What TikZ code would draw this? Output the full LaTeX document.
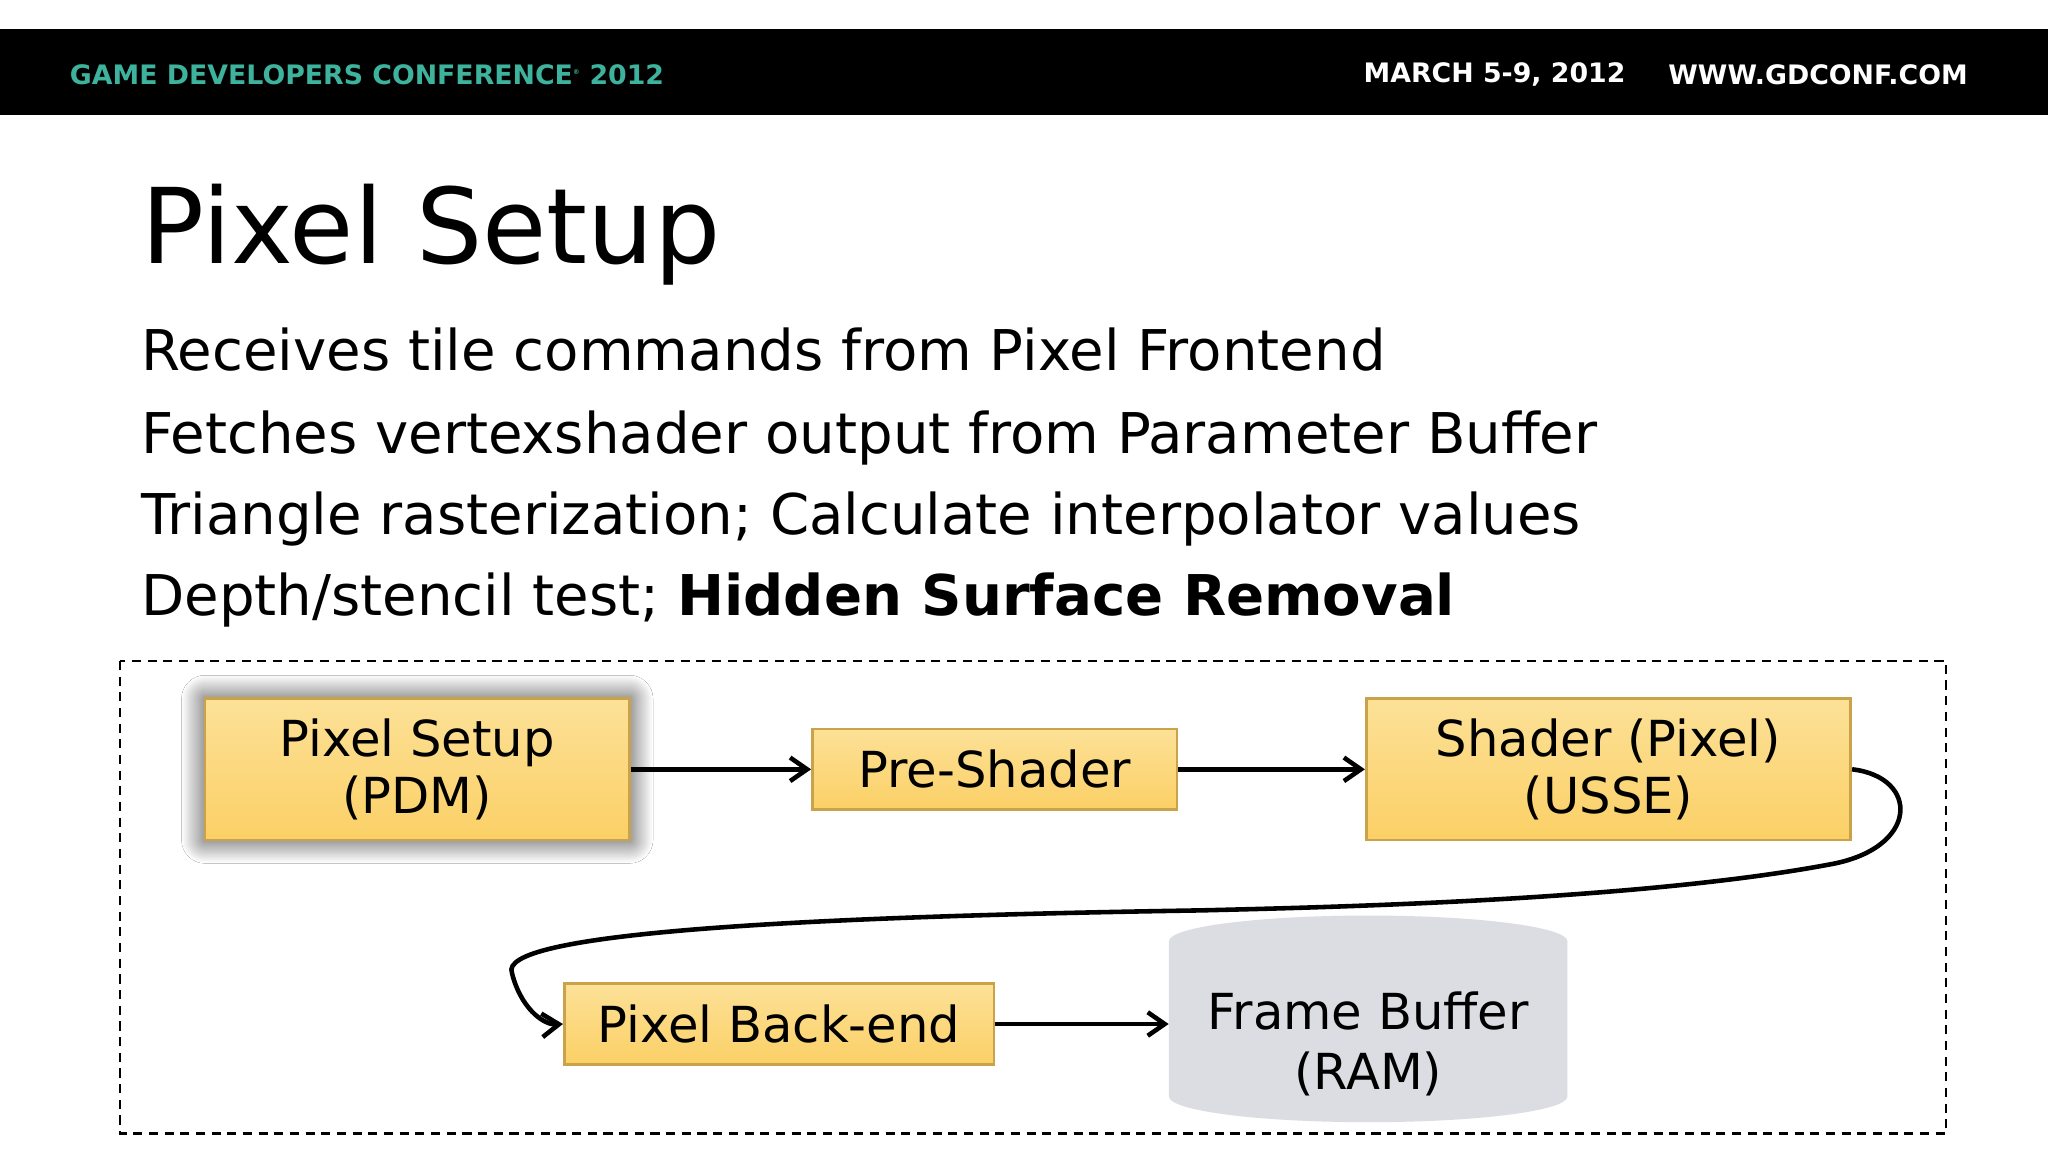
\documentclass[tikz,border=0pt]{standalone}
\usepackage{fontspec}
\setmainfont{DejaVu Sans}
\usetikzlibrary{shapes.geometric,arrows.meta,shadows.blur}
\definecolor{teal}{HTML}{3DB39E}
\definecolor{gold}{HTML}{FBD46B}
\definecolor{goldb}{HTML}{C9A24A}
\definecolor{cyl}{HTML}{DCDCE3}
\tikzset{
 blk/.style={draw=goldb,line width=2pt,top color=gold!70!white,bottom color=gold!95!orange,font=\fontsize{38}{44}\selectfont,align=center,inner sep=0pt},
 arr/.style={-{Straight Barb[length=13pt,width=18pt,line width=3.5pt]},line width=3.5pt},
 body/.style={anchor=base west,font=\fontsize{43}{46}\selectfont,inner sep=0pt},
 hdr/.style={font=\bfseries\fontsize{20.5}{22}\selectfont}
}
\begin{document}
\begin{tikzpicture}[x=1pt,y=-1pt]
\useasboundingbox (0,0) rectangle (1568,882);
\fill[white] (0,0) rectangle (1568,882);
\fill[black] (0,22) rectangle (1568,88);
\node[anchor=west,text=teal,hdr] (hd) at (50,57) {GAME DEVELOPERS CONFERENCE\textsuperscript{\tiny®} 2012};
\node[anchor=east,text=white,hdr] (dt) at (1248,57) {MARCH 5-9, 2012};
\node[anchor=east,text=white,hdr] (url) at (1510,57) {WWW.GDCONF.COM};
\node[anchor=base west,font=\fontsize{80}{82}\selectfont,inner sep=0pt] (title) at (108,202) {Pixel Setup};
\node[body] (l1) at (108,284) {Receives tile commands from Pixel Frontend};
\node[body] (l2) at (108,347) {Fetches vertexshader output from Parameter Buffer};
\node[body] (l3) at (108,409) {Triangle rasterization; Calculate interpolator values};
\node[body] (l4) at (108,471) {Depth/stencil test; \textbf{Hidden Surface Removal}};
\draw[line width=2pt,dash pattern=on 7pt off 5pt] (92,506) rectangle (1490,868);
\node[blk,minimum width=325pt,minimum height=108pt,blur shadow={shadow blur steps=25,shadow xshift=0pt,shadow yshift=0pt,shadow blur radius=18pt,shadow opacity=80}] (ps) at (319.5,589) {Pixel Setup\\(PDM)};
\node[blk,minimum width=279pt,minimum height=62pt] (pre) at (761.5,589) {Pre-Shader};
\node[blk,minimum width=371pt,minimum height=108pt] (sh) at (1231.5,589) {Shader (Pixel)\\(USSE)};
\node[blk,minimum width=329pt,minimum height=62pt] (be) at (596.5,784) {Pixel Back-end};
\node[cylinder,shape border rotate=90,aspect=0.16,fill=cyl,minimum width=305pt,minimum height=120pt,font=\fontsize{38}{46}\selectfont,align=center,inner sep=0pt] (fb) at (1047.5,790) {\\[2pt]Frame Buffer\\(RAM)};
\draw[arr] (pre.east) -- (sh.west);
\draw[arr] (ps.east) -- (pre.west);
\draw[arr] (be.east) -- (be.east -| fb.west);
\coordinate (m) at (920,697);
\draw[arr] (sh.east) .. controls (1470,595) and (1470,650) .. (1400,662)
 .. controls (1250,690) and (1000,695) .. (m)
 .. controls (600,702) and (380,715) .. (392,745)
 .. controls (398,770) and (415,785) .. (be.west);
\end{tikzpicture}
\end{document}
